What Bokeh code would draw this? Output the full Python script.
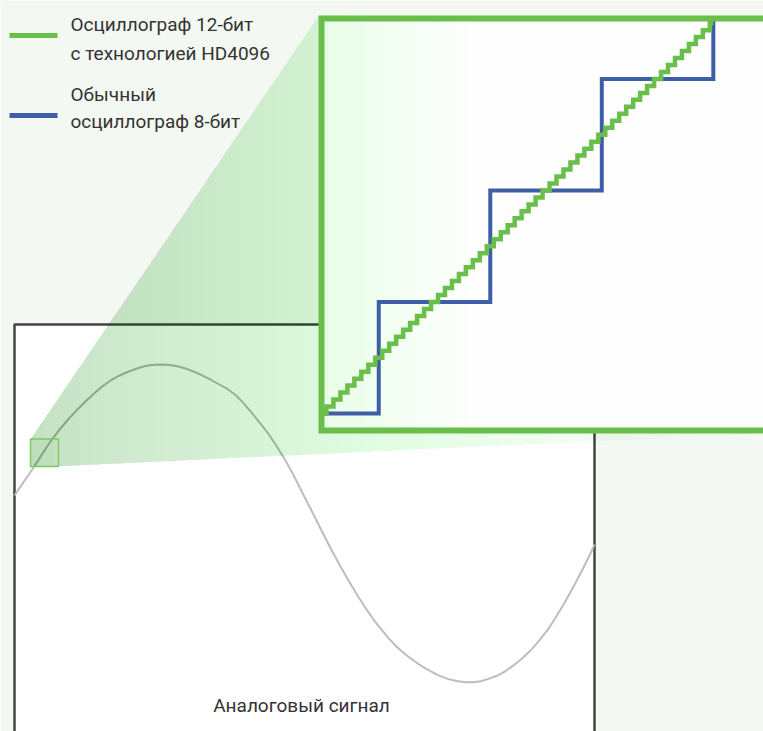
import numpy as np
from bokeh.plotting import figure
from bokeh.models import Range1d
from bokeh.core.properties import value
from bokeh.embed import file_html
from bokeh.resources import INLINE

# ---------------- data ----------------
# analog signal on the scope screen (time in ms, amplitude in V)
signal_t = [0.000, 0.138, 0.276, 0.397, 0.500, 0.638, 0.793, 0.931, 1.086, 1.224,
            1.362, 1.500, 1.655, 1.793, 1.948, 2.086, 2.224, 2.328, 2.431, 2.534,
            2.638, 2.810, 2.948, 3.086, 3.224, 3.379, 3.517, 3.672, 3.810, 3.948,
            4.086, 4.241, 4.379, 4.534, 4.672, 4.810, 4.948, 5.103, 5.207, 5.328,
            5.466, 5.621, 5.759, 5.914, 6.052, 6.190, 6.310, 6.448, 6.603, 6.741,
            6.879, 7.034, 7.172, 7.310, 7.466, 7.621, 7.776, 7.914, 8.034, 8.172,
            8.328, 8.466, 8.603, 8.741, 8.897, 9.034, 9.190, 9.276, 9.362, 9.466,
            9.534, 9.672, 9.810, 9.914, 10.000]
signal_v = [0.178, 0.252, 0.325, 0.391, 0.450, 0.525, 0.597, 0.656, 0.716, 0.766,
            0.813, 0.856, 0.897, 0.925, 0.950, 0.969, 0.984, 0.992, 0.996, 0.997,
            0.995, 0.986, 0.972, 0.953, 0.931, 0.903, 0.875, 0.844, 0.806, 0.756,
            0.697, 0.628, 0.563, 0.478, 0.397, 0.306, 0.206, 0.097, 0.022, -0.066,
            -0.163, -0.266, -0.353, -0.447, -0.525, -0.597, -0.653, -0.713, -0.772, -0.816,
            -0.853, -0.891, -0.920, -0.946, -0.968, -0.981, -0.989, -0.989, -0.983, -0.968,
            -0.947, -0.919, -0.884, -0.844, -0.791, -0.734, -0.663, -0.616, -0.566, -0.503,
            -0.459, -0.369, -0.272, -0.197, -0.128]

# zoomed view: 12-bit (HD4096) samples and codes
hd_sample = [0, 1, 2, 3, 4, 5, 6, 7, 8, 9, 10, 11, 12, 13, 14, 15, 16, 17, 18, 19,
             20, 21, 22, 23, 24, 25, 26, 27, 28, 29, 30, 31, 32, 33, 34, 35, 36, 37, 38, 39,
             40, 41, 42, 43, 44, 45, 46, 47, 48, 49, 50, 51, 52, 53, 54, 55, 56]
hd_code = [0, 1, 2, 3, 4, 5, 6, 7, 8, 9, 10, 11, 12, 13, 14, 15, 16, 17, 18, 19,
           20, 21, 22, 23, 24, 25, 26, 27, 28, 29, 30, 31, 32, 33, 34, 35, 36, 37, 38, 39,
           40, 41, 42, 43, 44, 45, 46, 47, 48, 49, 50, 51, 52, 53, 54, 55, 56]
# 8-bit scope: code changes (in the same sample units)
std_sample = [0, 8, 24, 40, 56]
std_code = [0, 1, 2, 3, 4]
HD_PER_STD = 16   # one 8-bit step = 16 steps of the 12-bit scope

legend_lines = [["Осциллограф 12-бит", "с технологией HD4096"],
                ["Обычный", "осциллограф 8-бит"]]
caption = "Аналоговый сигнал"

# ---------------- styling / layout (page pixels) ----------------
W, H = 763, 731
X0, Y0 = 0, 0
BG = "#f4f8f2"
GREEN = "#6abf4b"
BLUE = "#3f5ea8"
TEXT = "#333333"
FONT = value("Roboto")

SC_L, SC_R, SC_T, SC_B = 14, 594, 324, 790          # scope screen
T_SPAN = 10.0
V_ZERO_Y, V_PX = 523.5, 160.0
IN_L, IN_R, IN_T, IN_B = 321, 766, 18, 430          # zoom window (border centre)
U_ORIGIN_X, U_PX, LVL_ZERO_Y = 322.5, 6.97, 413.0
ZB_L, ZB_R, ZB_T, ZB_B = 30, 58, 438.5, 466          # small zoom box

p = figure(width=W, height=H, x_range=Range1d(X0, X0 + W), y_range=Range1d(Y0 + H, Y0),
           output_backend="svg", toolbar_location=None, min_border=0,
           x_axis_location=None, y_axis_location=None)
p.grid.visible = False
p.outline_line_color = None
p.background_fill_color = BG
p.border_fill_color = BG


def to_t(x):
    return (x - SC_L) / (SC_R - SC_L) * T_SPAN


def to_u(x):
    return (x - U_ORIGIN_X) / U_PX


p.extra_x_ranges = {"t": Range1d(to_t(X0), to_t(X0 + W)),
                    "u": Range1d(to_u(X0), to_u(X0 + W))}
p.extra_y_ranges = {"v": Range1d((V_ZERO_Y - (Y0 + H)) / V_PX, (V_ZERO_Y - Y0) / V_PX),
                    "lvl": Range1d((LVL_ZERO_Y - (Y0 + H)) / U_PX, (LVL_ZERO_Y - Y0) / U_PX)}

# scope screen
p.quad(left=[SC_L], right=[SC_R], top=[SC_T], bottom=[SC_B], fill_color="white",
       line_color="#444444", line_width=2.5)
p.line(signal_t, signal_v, x_range_name="t", y_range_name="v",
       line_color="#bdbdbd", line_width=2, line_join="round")

# funnel with horizontal gradient (nested translucent polygons)
OUT_L, OUT_T, OUT_R, OUT_B = IN_L - 3, IN_T - 3, IN_R + 3, IN_B + 3


def top_edge(x):
    if x >= OUT_L:
        return OUT_T
    return ZB_T + (OUT_T - ZB_T) * (x - ZB_L) / (OUT_L - ZB_L)


def bot_edge(x):
    if x <= ZB_R:
        return ZB_B
    return ZB_B + (OUT_B - ZB_B) * (x - ZB_R) / (OUT_R - ZB_R)


def funnel_upto(xk):
    xs_top = [ZB_L] + [b for b in (OUT_L,) if b < xk] + [xk]
    xs_bot = [xk] + [b for b in (ZB_R,) if b < xk] + [ZB_L]
    return xs_top + xs_bot, [top_edge(x) for x in xs_top] + [bot_edge(x) for x in xs_bot]


def nested_alphas(targets):
    t = list(targets) + [0.0]
    return [1 - (1 - t[k]) / (1 - t[k + 1]) for k in range(len(targets))]


N = 60
edges = np.linspace(ZB_L, OUT_R, N + 1)
mids = 0.5 * (edges[:-1] + edges[1:])
s = (mids - ZB_L) / (OUT_R - ZB_L)
targets = 0.025 + 0.28 * (1 - s) ** 1.6
alphas = nested_alphas(targets)
fx, fy = [], []
for xk in edges[1:]:
    a, b = funnel_upto(xk)
    fx.append(a)
    fy.append(b)
p.patches(xs=fx, ys=fy, fill_color=GREEN, fill_alpha=alphas, line_color=None)

# small zoom box
p.quad(left=[ZB_L], right=[ZB_R], top=[ZB_T], bottom=[ZB_B], fill_color=GREEN, fill_alpha=0.06,
       line_color="#7cc96a", line_width=1.5)

# zoom window background
p.quad(left=[IN_L], right=[IN_R], top=[IN_T], bottom=[IN_B], fill_color="#fdfefd", line_color=None)
M = 30
iedges = np.linspace(IN_L, IN_L + 220, M + 1)
imid = 0.5 * (iedges[:-1] + iedges[1:])
itargets = 0.07 * (1 - (imid - IN_L) / 220) ** 1.5
p.quad(left=[IN_L] * M, right=list(iedges[1:]), top=[IN_T] * M, bottom=[IN_B] * M,
       fill_color=GREEN, fill_alpha=nested_alphas(itargets), line_color=None)

# staircases
win_top_lvl = (LVL_ZERO_Y - IN_T) / U_PX
std_lvl = [min(c * HD_PER_STD, win_top_lvl) for c in std_code]
p.step(std_sample, std_lvl, mode="after", x_range_name="u", y_range_name="lvl",
       line_color=BLUE, line_width=4, line_join="miter")
p.step(hd_sample, hd_code, mode="center", x_range_name="u", y_range_name="lvl",
       line_color=GREEN, line_width=4.5, line_join="miter")

# zoom window border
p.quad(left=[IN_L], right=[IN_R], top=[IN_T], bottom=[IN_B], fill_color=None,
       line_color=GREEN, line_width=6, line_join="miter")

# legend
p.segment(x0=[9, 9], x1=[57, 57], y0=[35, 115], y1=[35, 115],
          line_color=[GREEN, BLUE], line_width=5)
p.text(x=[70, 70, 70, 70], y=[24, 52.5, 94, 121],
       text=legend_lines[0] + legend_lines[1], text_font=FONT, text_font_size="19px",
       text_color=TEXT, text_baseline="alphabetic")

# caption
p.text(x=[301], y=[705], text=[caption], text_font=FONT, text_font_size="19px",
       text_color=TEXT, text_align="center", text_baseline="alphabetic")

open("out.html", "w").write(file_html(p, INLINE))
